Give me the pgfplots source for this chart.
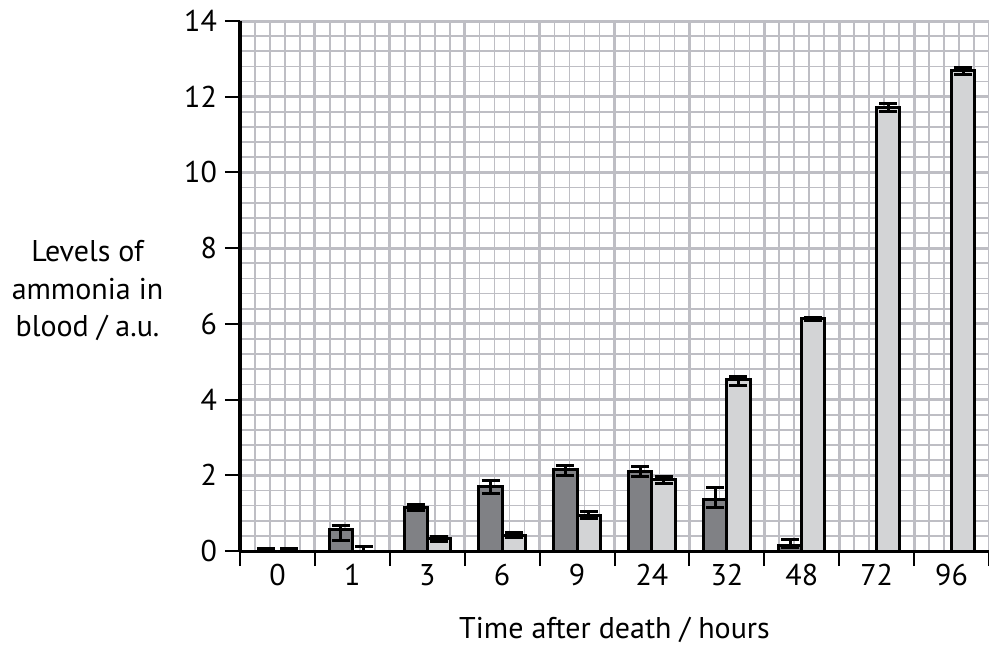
\documentclass[border=0pt]{standalone}
\usepackage{pgfplots}
\usepackage{pgfplotstable}
\pgfplotsset{compat=1.18}
\usepackage{fontspec}
\setmainfont{PT Sans}
\definecolor{gridc}{RGB}{190,190,196}
\definecolor{darkbar}{RGB}{128,129,133}
\definecolor{lightbar}{RGB}{211,212,214}
\pgfplotstableread{
x v p m
0.5 0.00 0.07 0.00
1.5 0.57 0.10 0.30
2.5 1.14 0.09 0.08
3.5 1.70 0.15 0.18
4.5 2.14 0.13 0.15
5.5 2.11 0.11 0.13
6.5 1.35 0.33 0.21
7.5 0.15 0.16 0.05
}\darktab
\pgfplotstableread{
x v p m
0.5 0.00 0.07 0.00
1.5 0.00 0.11 0.00
2.5 0.33 0.05 0.07
3.5 0.42 0.06 0.07
4.5 0.95 0.09 0.10
5.5 1.89 0.09 0.10
6.5 4.52 0.08 0.14
7.5 6.13 0.03 0.03
8.5 11.71 0.10 0.11
9.5 12.69 0.08 0.09
}\lighttab
\begin{document}
\begin{tikzpicture}
\useasboundingbox (-120pt,-49.5pt) rectangle (374.5pt,275.5pt);
\begin{axis}[
  at={(0pt,0pt)}, anchor=south west,
  scale only axis, width=374.5pt, height=265pt,
  xmin=0, xmax=10, ymin=0, ymax=14,
  axis x line=bottom, axis y line=left,
  axis line style={-, black},
  x axis line style={line width=1.5pt},
  y axis line style={line width=2pt},
  xtick={0,...,10}, xticklabels={},
  ytick={0,2,...,14},
  minor x tick num=4, minor y tick num=4,
  grid=both,
  major grid style={gridc, line width=1.5pt},
  minor grid style={gridc, line width=0.8pt},
  tick align=outside,
  major tick length=7.5pt, minor tick length=0pt,
  tick style={black, line width=1pt},
  extra x ticks={0.5,1.5,...,9.5},
  extra x tick labels={0,1,3,6,9,24,32,48,72,96},
  extra x tick style={major tick length=0pt, grid=none, tick label style={yshift=-3pt}},
  tick label style={font=\fontsize{15}{17}\selectfont},
  /pgf/number format/assume math mode=true,
  yticklabel style={xshift=-0.5pt},
  ybar, bar width=0.31,
  clip=false,
]
\addplot[fill=darkbar, draw=black, line width=1.5pt, bar shift=-0.155,
  error bars/.cd, y dir=both, y explicit,
  error bar style={line width=1.5pt, black},
  error mark options={rotate=90, mark size=4.5pt, line width=1.5pt, black}]
  table[x=x, y=v, y error plus=p, y error minus=m] {\darktab};
\addplot[fill=lightbar, draw=black, line width=1.5pt, bar shift=0.155,
  error bars/.cd, y dir=both, y explicit,
  error bar style={line width=1.5pt, black},
  error mark options={rotate=90, mark size=4.5pt, line width=1.5pt, black}]
  table[x=x, y=v, y error plus=p, y error minus=m] {\lighttab};
\node[align=center, font=\fontsize{15}{18.75}\selectfont] at (rel axis cs:0,0.4906) [xshift=-76.25pt] {Levels of\\ammonia in\\blood / a.u.};
\node[font=\fontsize{15}{17}\selectfont] at (rel axis cs:0.5,0) [yshift=-39.5pt] {Time after death / hours};
\end{axis}
\end{tikzpicture}
\end{document}
